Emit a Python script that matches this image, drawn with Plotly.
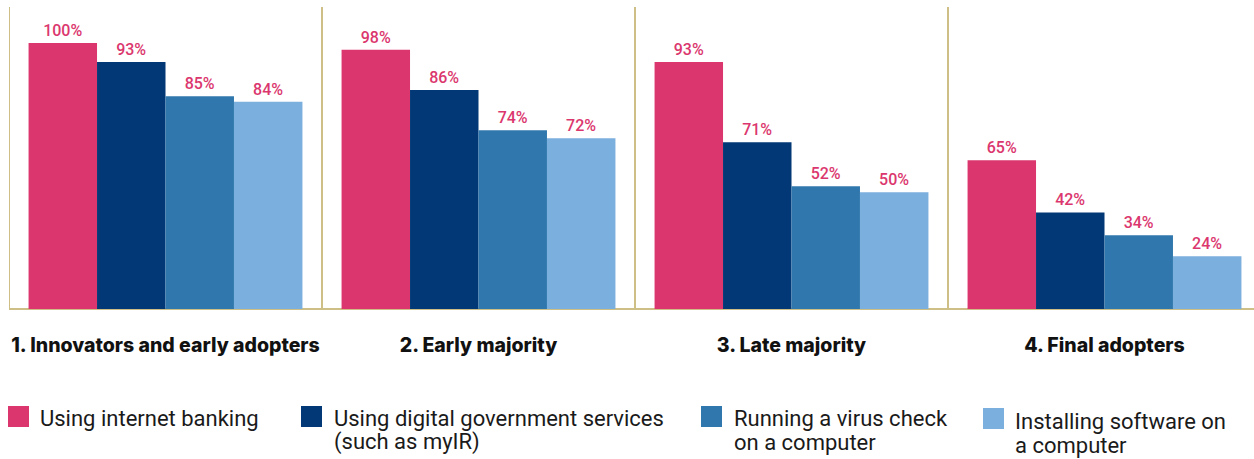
import plotly.graph_objects as go

categories = ["1. Innovators and early adopters", "2. Early majority", "3. Late majority", "4. Final adopters"]
series_names = [
    "Using internet banking",
    "Using digital government services (such as myIR)",
    "Running a virus check on a computer",
    "Installing software on a computer",
]
# printed percentage labels
label_internet_banking = [100, 98, 93, 65]
label_digital_gov = [93, 86, 71, 42]
label_virus_check = [85, 74, 52, 34]
label_install_software = [84, 72, 50, 24]
# bar heights as drawn in the picture (same % scale, 100% bar = full height)
bar_internet_banking = [100, 97.4, 92.8, 55.9]
bar_digital_gov = [92.8, 82.3, 62.7, 36.3]
bar_virus_check = [80.0, 67.2, 46.1, 27.7]
bar_install_software = [77.9, 64.2, 43.9, 19.8]

series_labels = [label_internet_banking, label_digital_gov, label_virus_check, label_install_software]
series_bars = [bar_internet_banking, bar_digital_gov, bar_virus_check, bar_install_software]
colors = ["#DB376E", "#023876", "#3077AD", "#7BAFDD"]
legend_lines = [
    ["Using internet banking"],
    ["Using digital government services", "(such as myIR)"],
    ["Running a virus check", "on a computer"],
    ["Installing software on", "a computer"],
]

W, H = 1254, 459
L, T, B = 9, 7, 150
plot_w = W - L
plot_h = H - T - B
cat_px = 313.0


def px_x(p):
    return (p - L) / plot_w


def px_y(p):
    return (H - B - p) / plot_h


fig = go.Figure()
for name, vals, labs, col in zip(series_names, series_bars, series_labels, colors):
    fig.add_trace(go.Bar(
        x=categories, y=vals, name=name, marker=dict(color=col, line=dict(width=0)),
        text=[f"{v}%" for v in labs], textposition="outside", cliponaxis=False,
        textfont=dict(family="Roboto", size=16, color="#DB376E", weight=500),
        showlegend=False,
    ))

line_col = "#CDBF86"
for i in range(len(categories)):
    fig.add_shape(type="line", xref="x", yref="paper", x0=i - 0.5, x1=i - 0.5, y0=0, y1=1,
                  line=dict(color=line_col, width=2), layer="below")
fig.add_shape(type="line", xref="paper", yref="paper", x0=0, x1=1, y0=0, y1=0,
              line=dict(color=line_col, width=2), layer="below")

# custom legend
sw = [(8, 29, 406, 427), (301, 322, 406, 427), (701, 722, 406, 427), (983, 1004, 408, 429)]
tx = [38, 332, 732, 1013]
ty = [418, 418, 418, 421]
for (x0, x1, y0, y1), col, lines, xt, yt in zip(sw, colors, legend_lines, tx, ty):
    fig.add_shape(type="rect", xref="paper", yref="paper", x0=px_x(x0), x1=px_x(x1),
                  y0=px_y(y1), y1=px_y(y0), fillcolor=col, line=dict(width=0))
    for k, ln in enumerate(lines):
        fig.add_annotation(xref="paper", yref="paper", x=px_x(xt), y=px_y(yt + 24.5 * k),
                           text=ln, showarrow=False, xanchor="left", yanchor="middle",
                           font=dict(family="Roboto", size=22, color="#1a1a1a"))

fig.update_layout(
    width=W, height=H, autosize=False,
    margin=dict(l=L, r=0, t=T, b=B, pad=0),
    plot_bgcolor="white", paper_bgcolor="white",
    barmode="group", bargap=0.125, bargroupgap=0,
    xaxis=dict(type="category", range=[-0.5, 3.5 - (L + 4 * cat_px - W) / cat_px],
               showgrid=False, showline=False, zeroline=False, ticks="",
               tickfont=dict(family="Inter", size=19.5, color="#111111", weight=800),
               ticklabelstandoff=22, fixedrange=True),
    yaxis=dict(range=[0, 113.5], showgrid=False, showline=False, zeroline=False,
               showticklabels=False, ticks="", fixedrange=True),
)

fig.write_html("out.html", config={"displayModeBar": False},
               post_script="document.body.style.margin='0';document.body.style.overflow='hidden';")
